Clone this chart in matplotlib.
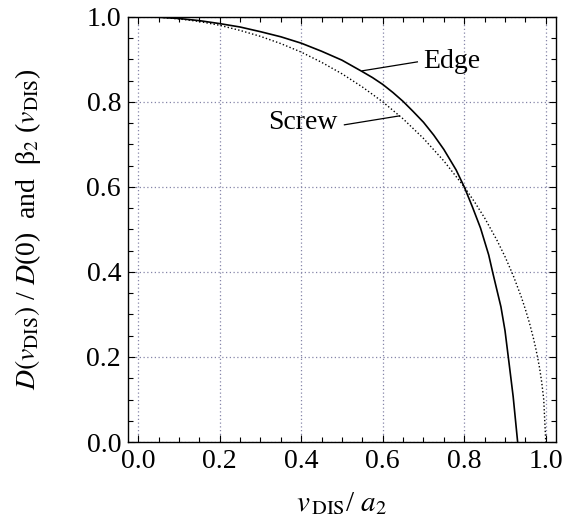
import matplotlib
matplotlib.use("Agg")
from matplotlib import pyplot as plt
from matplotlib.ticker import MultipleLocator

# Normalized velocity v_DIS / a_2 and the two curves
v_edge = [0.0, 0.05, 0.1, 0.15, 0.2, 0.25, 0.3, 0.35, 0.4, 0.45, 0.5, 0.55,
          0.575, 0.6, 0.625, 0.65, 0.675, 0.7, 0.725, 0.75, 0.78, 0.8, 0.82,
          0.84, 0.86, 0.87, 0.88, 0.89, 0.9, 0.91, 0.92, 0.931]
d_edge = [1.0, 0.999, 0.996, 0.991, 0.984, 0.976, 0.965, 0.953, 0.938, 0.919,
          0.898, 0.871, 0.857, 0.841, 0.822, 0.801, 0.777, 0.752, 0.722, 0.688,
          0.640, 0.600, 0.553, 0.503, 0.440, 0.398, 0.358, 0.318, 0.262, 0.185,
          0.107, 0.0]

v_screw = [0.0, 0.05, 0.1, 0.15, 0.2, 0.25, 0.3, 0.35, 0.4, 0.45, 0.5, 0.55,
           0.6, 0.65, 0.7, 0.75, 0.8, 0.825, 0.85, 0.88, 0.9, 0.92, 0.94, 0.95,
           0.96, 0.97, 0.975, 0.98, 0.985, 0.99, 0.995, 1.0]
d_screw = [1.0, 0.999, 0.995, 0.989, 0.980, 0.968, 0.954, 0.937, 0.917, 0.893,
           0.866, 0.835, 0.800, 0.760, 0.714, 0.661, 0.600, 0.565, 0.527, 0.475,
           0.436, 0.392, 0.341, 0.312, 0.280, 0.243, 0.222, 0.199, 0.173, 0.141,
           0.100, 0.0]

x_ticks = [0.0, 0.2, 0.4, 0.6, 0.8, 1.0]
y_ticks = [0.0, 0.2, 0.4, 0.6, 0.8, 1.0]

plt.rcParams['font.family'] = ['Liberation Serif', 'DejaVu Serif']
plt.rcParams['mathtext.fontset'] = 'stix'

fig = plt.figure(figsize=(5.65, 5.25), dpi=100)
ax = fig.add_axes([0.2265, 0.158, 0.7575, 0.81])

ax.plot(v_edge, d_edge, color='k', lw=1.2)
ax.plot(v_screw, d_screw, color='k', lw=1.0, linestyle=(0, (1, 1.6)))

# Curve labels with leader lines
ax.plot([0.550, 0.685], [0.873, 0.894], color='k', lw=0.9)
ax.text(0.70, 0.894, "Edge", fontsize=20, va='center', ha='left')
ax.plot([0.506, 0.641], [0.746, 0.767], color='k', lw=0.9)
ax.text(0.488, 0.752, "Screw", fontsize=20, va='center', ha='right')

ax.set_xlim(-0.025, 1.025)
ax.set_ylim(0.0, 1.0)
ax.set_xticks(x_ticks)
ax.set_yticks(y_ticks)
ax.set_xticklabels([f"{t:.1f}" for t in x_ticks], fontsize=20)
ax.set_yticklabels([f"{t:.1f}" for t in y_ticks], fontsize=20)
ax.xaxis.set_minor_locator(MultipleLocator(0.05))
ax.yaxis.set_minor_locator(MultipleLocator(0.05))
ax.tick_params(which='both', direction='in', top=True, right=True, width=0.8)
ax.tick_params(which='major', length=5, pad=5)
ax.tick_params(which='minor', length=3.5)

ax.grid(True, which='major', color='#8585a8', linestyle=(0, (1, 2)), lw=0.9)
for s in ax.spines.values():
    s.set_linewidth(1.0)

ax.set_xlabel(r"$v_{\,\rm DIS}$/ $a_2$", fontsize=21)
ax.set_ylabel(r"$D(v_{\rm DIS})$ / $D$(0)  and  β$_2$ ($v_{\rm DIS}$)",
              fontsize=20)
ax.xaxis.set_label_coords(0.5, -0.145)
ax.yaxis.set_label_coords(-0.234, 0.5)
ax.xaxis.label.set_va('center')
ax.yaxis.label.set_va('center')

fig.savefig("out.png", dpi=100)
